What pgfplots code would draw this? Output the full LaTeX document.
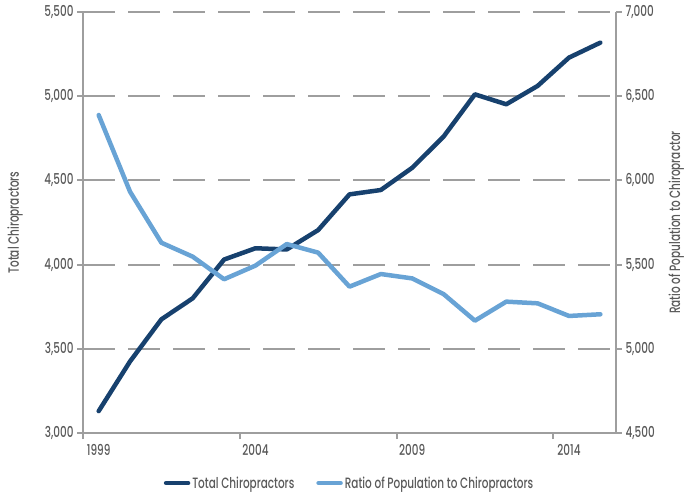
\documentclass[border=0pt]{standalone}
\usepackage{fontspec}
\setmainfont{Poppins Medium}[FakeStretch=0.7]
\usepackage{pgfplots}
\pgfplotsset{compat=1.18}
\definecolor{darkline}{HTML}{17416E}
\definecolor{lightline}{HTML}{68A3D5}
\definecolor{axisgray}{HTML}{9E9E9E}
\definecolor{textgray}{HTML}{595959}
\newcommand{\lblfont}{\fontsize{15}{17}\selectfont}
\begin{document}
\begin{tikzpicture}
\path[use as bounding box] (0,0) rectangle (686bp,495bp);
\pgfplotsset{every axis/.append style={
  scale only axis, width=533bp, height=421bp, at={(83bp,62bp)}, anchor=south west,
  xmin=1998.5, xmax=2015.5,
  axis line style={axisgray, line width=2bp},
  every tick/.style={axisgray, line width=2bp},
  major tick length=6bp,
  tick align=outside,
  tick label style={font=\lblfont, text=textgray},
  label style={font=\lblfont, text=textgray},
  /pgf/number format/assume math mode=true,
  /pgf/number format/1000 sep={,},
  legend image code/.code={\draw[#1] (0bp,0bp) -- (22bp,0bp);},
}}
\begin{axis}[
  axis y line*=left, axis x line*=bottom,
  ymin=3000, ymax=5500, ytick={3000,3500,...,5500},
  ymajorgrids, grid style={axisgray, line width=2bp, dash pattern=on 32bp off 13bp},
  xtick={1998.5,2003.5,2008.5,2013.5}, xticklabels={},
  extra x ticks={1999,2004,2009,2014},
  extra x tick labels={1999,2004,2009,2014},
  extra x tick style={major tick length=0bp, xticklabel style={yshift=-8bp}},
  ylabel={Total Chiropractors},
  ylabel style={at={(axis description cs:-0.1276,0.5)}, anchor=center},
]
\addplot[darkline, line width=4.5bp, line cap=round, line join=round] coordinates {
(1999,3130) (2000,3425) (2001,3675) (2002,3800) (2003,4030) (2004,4097) (2005,4090) (2006,4205) (2007,4417) (2008,4443) (2009,4575) (2010,4760) (2011,5011) (2012,4952) (2013,5061) (2014,5229) (2015,5318)};
\end{axis}
\begin{axis}[
  axis y line*=right, axis x line=none,
  ymin=4500, ymax=7000, ytick={4500,5000,...,7000},
  ylabel={Ratio of Population to Chiropractor},
  ylabel style={at={(axis description cs:1.113,0.5)}, anchor=center},
  legend columns=2,
  legend style={at={(axis description cs:0.5,-0.119)}, anchor=center, draw=none, fill=none,
    font=\lblfont, text=textgray,
    /tikz/every even column/.append style={column sep=20bp}},
]
\addlegendimage{darkline, line width=4.5bp, line cap=round}
\addlegendentry{Total Chiropractors}
\addplot[lightline, line width=4.5bp, line cap=round, line join=round] coordinates {
(1999,6388) (2000,5933) (2001,5630) (2002,5547) (2003,5413) (2004,5494) (2005,5622) (2006,5571) (2007,5369) (2008,5444) (2009,5418) (2010,5325) (2011,5167) (2012,5280) (2013,5270) (2014,5195) (2015,5205)};
\addlegendentry{Ratio of Population to Chiropractors}
\end{axis}
\end{tikzpicture}
\end{document}
